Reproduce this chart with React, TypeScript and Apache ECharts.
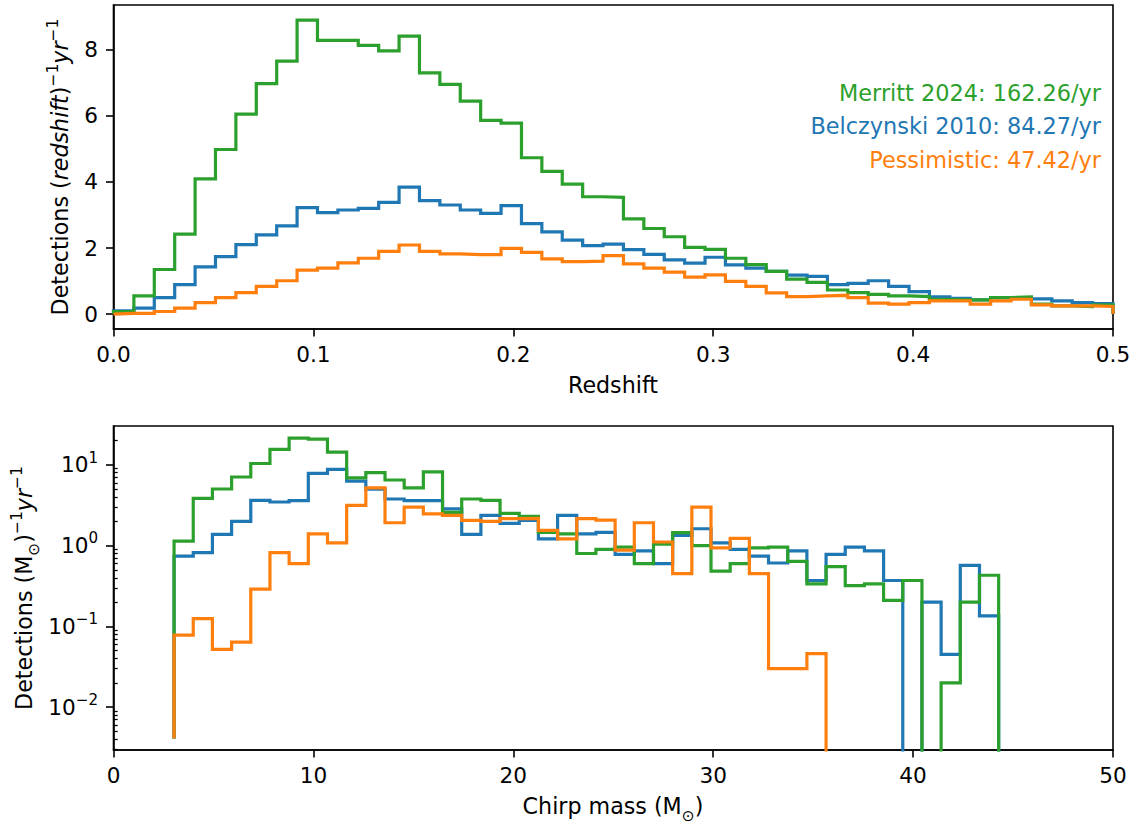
import React, { useEffect, useRef } from 'react';
import * as echarts from 'echarts';

const FONT = 'DejaVu Sans';
const FS = 21.6;
const FS_NAME = 22.2;
const FS_NOTE = 22.4;
const SUP = 15.1;
const BLUE = '#1f77b4';
const ORANGE = '#ff7f0e';
const GREEN = '#2ca02c';

// ---------- Redshift histogram: 49 bins from 0 to 0.5 ----------
const redshiftBinStart = 0;
const redshiftBinWidth = 0.5 / 49;
const redshiftMerritt = [
  0.08, 0.55, 1.35, 2.42, 4.09, 4.98, 6.05, 6.97, 7.65, 8.89,
  8.28, 8.28, 8.13, 7.96, 8.41, 7.30, 6.95, 6.44, 5.86, 5.78,
  4.73, 4.32, 3.93, 3.55, 3.53, 2.88, 2.59, 2.34, 2.02, 1.96,
  1.69, 1.50, 1.29, 1.06, 0.96, 0.73, 0.65, 0.60, 0.55, 0.53,
  0.45, 0.43, 0.43, 0.50, 0.52, 0.30, 0.25, 0.23, 0.28,
];
const redshiftBelczynski = [
  0.10, 0.18, 0.50, 0.89, 1.43, 1.74, 2.10, 2.40, 2.67, 3.22,
  3.07, 3.15, 3.20, 3.38, 3.84, 3.43, 3.30, 3.15, 3.05, 3.28,
  2.74, 2.49, 2.24, 2.07, 2.12, 1.95, 1.81, 1.64, 1.54, 1.72,
  1.49, 1.39, 1.29, 1.18, 1.14, 0.89, 0.93, 1.01, 0.84, 0.68,
  0.52, 0.48, 0.43, 0.50, 0.50, 0.46, 0.40, 0.35, 0.32,
];
const redshiftPessimistic = [
  0.02, 0.02, 0.08, 0.18, 0.35, 0.50, 0.65, 0.84, 1.01, 1.33,
  1.39, 1.55, 1.69, 1.90, 2.09, 1.90, 1.82, 1.80, 1.80, 1.99,
  1.87, 1.67, 1.59, 1.60, 1.77, 1.52, 1.39, 1.27, 1.12, 1.19,
  0.99, 0.84, 0.64, 0.53, 0.55, 0.57, 0.50, 0.33, 0.30, 0.35,
  0.40, 0.40, 0.30, 0.40, 0.45, 0.28, 0.25, 0.25, 0.23,
];

// ---------- Chirp-mass histogram: 43 bins ----------
const massBinStart = 3.03;
const massBinWidth = 0.9593;
const massMerritt = [
  1.14, 3.85, 5.03, 7.08, 10.4, 15.6, 21.5, 20.9, 14.4, 6.9,
  8.0, 6.5, 5.2, 8.2, 2.58, 3.78, 3.64, 2.51, 2.31, 1.46,
  1.40, 0.80, 0.90, 0.96, 0.60, 1.04, 1.45, 1.0, 0.485, 0.60,
  0.94, 0.96, 0.64, 0.336, 0.55, 0.32, 0.336, 0.21, 0.37, 0,
  0.020, 0.20, 0.43,
];
const massBelczynski = [
  0.74, 0.82, 1.38, 2.0, 3.64, 3.47, 3.6, 7.85, 8.8, 6.3,
  5.0, 3.78, 3.6, 3.6, 2.85, 1.38, 2.37, 1.89, 2.05, 1.21,
  2.37, 1.40, 1.46, 0.78, 0.86, 0.60, 1.34, 1.62, 1.08, 0.90,
  0.74, 0.61, 0.86, 0.37, 0.78, 0.96, 0.86, 0.37, 0, 0.20,
  0.045, 0.57, 0.135,
];
const massPessimistic = [
  0.078, 0.125, 0.052, 0.064, 0.29, 0.82, 0.60, 1.40, 1.08, 3.15,
  5.2, 1.92, 3.0, 2.47, 2.37, 2.05, 2.0, 2.16, 2.18, 1.55,
  1.21, 2.16, 2.07, 0.88, 1.92, 1.11, 0.45, 3.0, 0.94, 1.23,
  0.45, 0.030, 0.030, 0.046, 0, 0, 0, 0, 0, 0,
  0, 0, 0,
];
const massStartFloor = 0.0041;

// ---------- ticks & texts ----------
const redshiftXTicks = [0, 0.1, 0.2, 0.3, 0.4, 0.5];
const redshiftYTicks = [0, 2, 4, 6, 8];
const massXTicks = [0, 10, 20, 30, 40, 50];
const massYMajorTicks = [0.01, 0.1, 1, 10];
const massYMinorTicks = [
  0.003, 0.004, 0.005, 0.006, 0.007, 0.008, 0.009,
  0.02, 0.03, 0.04, 0.05, 0.06, 0.07, 0.08, 0.09,
  0.2, 0.3, 0.4, 0.5, 0.6, 0.7, 0.8, 0.9,
  2, 3, 4, 5, 6, 7, 8, 9, 20,
];
const rateLabels = [
  { text: 'Merritt 2024: 162.26/yr', color: GREEN },
  { text: 'Belczynski 2010: 84.27/yr', color: BLUE },
  { text: 'Pessimistic: 47.42/yr', color: ORANGE },
];

function edgesOf(start: number, width: number, n: number) {
  return Array.from({ length: n + 1 }, (_, i) => start + width * i);
}

function stepPoints(edges: number[], vals: number[], startFloor: number, endFloor: number, zeroVal: number) {
  const pts: number[][] = [[edges[0], startFloor]];
  vals.forEach((v, i) => {
    const y = v > 0 ? v : zeroVal;
    pts.push([edges[i], y], [edges[i + 1], y]);
  });
  pts.push([edges[edges.length - 1], endFloor]);
  return pts;
}

const rich = {
  n: { fontSize: FS, fontFamily: FONT, color: '#000', verticalAlign: 'middle' },
  i: { fontSize: FS, fontFamily: FONT, color: '#000', fontStyle: 'italic', verticalAlign: 'middle' },
  s: { fontSize: SUP, fontFamily: FONT, color: '#000', padding: [0, 0, 14.4, 0], verticalAlign: 'middle' },
  sub: { fontSize: SUP, fontFamily: FONT, color: '#000', padding: [20, 0, 0, 0], verticalAlign: 'middle' },
};

const richName = {
  n: { ...rich.n, fontSize: FS_NAME },
  i: { ...rich.i, fontSize: FS_NAME },
  s: { ...rich.s, fontSize: 15.5, padding: [0, 0, 14.8, 0] },
  sub: { ...rich.sub, fontSize: 15.5, padding: [20.5, 0, 0, 0] },
};

function expLabel(v: number) {
  const e = Math.round(Math.log10(v));
  const es = e < 0 ? '\u2212' + Math.abs(e) : String(e);
  return `{n|10}{s|${es}}`;
}

const axisLineStyle = { color: '#000', width: 1.6 };

export default function App() {
  const ref = useRef<HTMLDivElement>(null);
  useEffect(() => {
    const chart = echarts.init(ref.current!, null, { renderer: 'svg' });
    const zEdges = edgesOf(redshiftBinStart, redshiftBinWidth, redshiftMerritt.length);
    const mEdges = edgesOf(massBinStart, massBinWidth, massMerritt.length);

    const lineSeries = (name: string, data: number[][], color: string, axis: number, z: number) => ({
      name,
      type: 'line',
      xAxisIndex: axis,
      yAxisIndex: axis,
      data,
      showSymbol: false,
      symbol: 'none',
      clip: true,
      silent: true,
      z,
      lineStyle: { color, width: 3.2, join: 'miter', cap: 'butt' },
      itemStyle: { color },
      emphasis: { disabled: true },
    });

    const xAxisCommon = {
      type: 'value',
      axisLine: { show: true, onZero: false, lineStyle: axisLineStyle },
      axisTick: { show: true, length: 7.5, lineStyle: axisLineStyle },
      axisLabel: { fontSize: FS, fontFamily: FONT, color: '#000', margin: 14.5, showMinLabel: true, showMaxLabel: true },
      splitLine: { show: false },
    };

    const option: any = {
      animation: false,
      backgroundColor: '#fff',
      grid: [
        { left: 113.5, width: 999.5, top: 5, height: 324, show: true, borderColor: '#000', borderWidth: 1.6, backgroundColor: 'transparent' },
        { left: 113.5, width: 999.5, top: 426, height: 324, show: true, borderColor: '#000', borderWidth: 1.6, backgroundColor: 'transparent' },
      ],
      xAxis: [
        {
          ...xAxisCommon,
          gridIndex: 0,
          min: 0,
          max: 0.5,
          interval: 0.1,
          axisTick: { ...xAxisCommon.axisTick, customValues: redshiftXTicks },
          axisLabel: { ...xAxisCommon.axisLabel, customValues: redshiftXTicks, formatter: (v: number) => v.toFixed(1) },
        },
        {
          ...xAxisCommon,
          gridIndex: 1,
          min: 0,
          max: 50,
          interval: 10,
          axisTick: { ...xAxisCommon.axisTick, customValues: massXTicks },
          axisLabel: { ...xAxisCommon.axisLabel, customValues: massXTicks, formatter: (v: number) => String(Math.round(v)) },
        },
      ],
      yAxis: [
        {
          type: 'value',
          gridIndex: 0,
          min: -0.45,
          max: 9.35,
          axisLine: { show: true, onZero: false, lineStyle: axisLineStyle },
          axisTick: { show: true, length: 7.5, lineStyle: axisLineStyle, customValues: redshiftYTicks },
          axisLabel: { fontSize: FS, fontFamily: FONT, color: '#000', margin: 15.5, customValues: redshiftYTicks, formatter: (v: number) => String(Math.round(v)) },
          splitLine: { show: false },
        },
        {
          type: 'log',
          logBase: 10,
          gridIndex: 1,
          min: 0.00295,
          max: 30.3,
          axisLine: { show: true, onZero: false, lineStyle: axisLineStyle },
          axisTick: { show: true, length: 7.5, lineStyle: axisLineStyle, customValues: massYMajorTicks },
          axisLabel: { margin: 15.5, customValues: massYMajorTicks, formatter: expLabel, rich },
          splitLine: { show: false },
          minorTick: { show: false },
        },
        {
          type: 'log',
          logBase: 10,
          gridIndex: 1,
          min: 0.00295,
          max: 30.3,
          axisLine: { show: false },
          axisTick: { show: true, length: 4.2, lineStyle: { color: '#000', width: 1.25 }, customValues: massYMinorTicks },
          axisLabel: { show: false },
          splitLine: { show: false },
        },
      ],
      series: [
        lineSeries('Belczynski z', stepPoints(zEdges, redshiftBelczynski, 0, 0, 0), BLUE, 0, 2),
        lineSeries('Merritt z', stepPoints(zEdges, redshiftMerritt, 0, 0, 0), GREEN, 0, 3),
        lineSeries('Pessimistic z', stepPoints(zEdges, redshiftPessimistic, 0, 0, 0), ORANGE, 0, 4),
        lineSeries('Belczynski m', stepPoints(mEdges, massBelczynski, massStartFloor, 1e-6, 1e-6), BLUE, 1, 2),
        lineSeries('Merritt m', stepPoints(mEdges, massMerritt, massStartFloor, 1e-6, 1e-6), GREEN, 1, 3),
        lineSeries('Pessimistic m', stepPoints(mEdges, massPessimistic, massStartFloor, 1e-6, 1e-6), ORANGE, 1, 4),
      ],
      graphic: [
        ...rateLabels.map((r, k) => ({
          type: 'text',
          x: 1101,
          y: [92.8, 125.5, 159.5][k],
          silent: true,
          style: {
            text: r.text,
            fill: r.color,
            font: `${FS_NOTE}px "${FONT}"`,
            fontSize: FS_NOTE,
            fontFamily: FONT,
            align: 'right',
            textAlign: 'right',
            verticalAlign: 'middle',
            textVerticalAlign: 'middle',
          },
        })),
        {
          type: 'text',
          x: 613,
          y: 385,
          silent: true,
          style: { text: '{n|Redshift}', rich: richName, align: 'center', textAlign: 'center', verticalAlign: 'middle', textVerticalAlign: 'middle' },
        },
        {
          type: 'text',
          x: 613,
          y: 806,
          silent: true,
          style: { text: '{n|Chirp mass (M}{sub|\u2299}{n|)}', rich: richName, align: 'center', textAlign: 'center', verticalAlign: 'middle', textVerticalAlign: 'middle' },
        },
        {
          type: 'text',
          x: 60,
          y: 167,
          rotation: Math.PI / 2,
          silent: true,
          style: { text: '{n|Detections (}{i|redshift}{n|)}{s|\u22121}{i|yr}{s|\u22121}', rich: richName, align: 'center', textAlign: 'center', verticalAlign: 'middle', textVerticalAlign: 'middle' },
        },
        {
          type: 'text',
          x: 24,
          y: 588,
          rotation: Math.PI / 2,
          silent: true,
          style: { text: '{n|Detections (M}{sub|\u2299}{n|)}{s|\u22121}{i|yr}{s|\u22121}', rich: richName, align: 'center', textAlign: 'center', verticalAlign: 'middle', textVerticalAlign: 'middle' },
        },
      ],
    };
    chart.setOption(option);
    return () => chart.dispose();
  }, []);
  return (
    <div
      ref={ref}
      style={{ position: 'absolute', left: 0, top: 0, width: 1136, height: 824, background: '#fff' }}
    />
  );
}
